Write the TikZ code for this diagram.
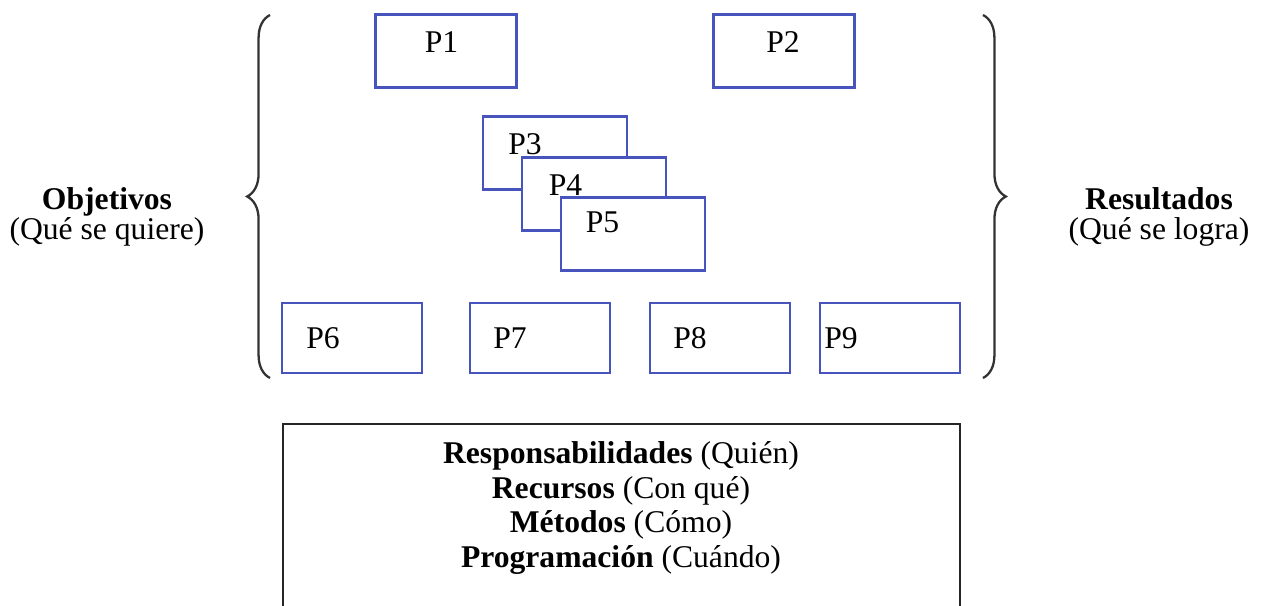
\documentclass[tikz,border=0pt]{standalone}
\usepackage{fontspec}
\setmainfont{Liberation Serif}
\usepackage{xcolor}
\usepackage{tikz}
\usetikzlibrary{positioning, decorations.pathreplacing}
\definecolor{boxblue}{RGB}{72,84,190}

\begin{document}
\begin{tikzpicture}[
        x=0.02cm, y=-0.02cm,
        font=\fontsize{18}{20}\selectfont,
        pbox/.style={rectangle, draw=boxblue, line width=1.4pt, fill=white, minimum width=2.82cm, minimum height=1.46cm, inner sep=0pt},
        sbox/.style={pbox, minimum width=2.88cm},
        rbox/.style={pbox, minimum width=2.8cm, minimum height=1.4cm},
        side/.style={align=center, font=\fontsize{18}{17}\selectfont},
        curly/.style={decorate, decoration={brace, amplitude=13pt}, line width=1.3pt, draw=black!80},
        panel/.style={rectangle, draw=black!85, line width=1.3pt, minimum width=13.54cm, minimum height=3.94cm, anchor=north}
    ]
        \useasboundingbox (0,0) rectangle (1263,605);

        % top pair
        \node[pbox, label={[xshift=-0.09cm, yshift=0.17cm]center:P1}] (P1) at (446,51) {};
        \node[pbox, label={[xshift=-0.02cm, yshift=0.17cm]center:P2}] (P2) at (784,51) {};

        % stacked boxes
        \node[sbox, label={[xshift=-0.6cm, yshift=0.17cm]center:P3}] (P3) at (555,153) {};
        \node[sbox, label={[xshift=-0.57cm, yshift=0.18cm]center:P4}] (P4) at (594,194) {};
        \node[sbox, label={[xshift=-0.61cm, yshift=0.23cm]center:P5}] (P5) at (633,234) {};

        % bottom row
        \node[rbox, label={[xshift=-0.58cm]center:P6}] (P6) at (352,338) {};
        \node[rbox, label={[xshift=-0.6cm]center:P7}] (P7) at (540,338) {};
        \node[rbox, label={[xshift=-0.6cm]center:P8}] (P8) at (720,338) {};
        \node[rbox, label={[xshift=-0.98cm]center:P9}] (P9) at (890,338) {};

        % braces
        \draw[curly] (270,378) -- (270,15);
        \draw[curly] (983,15) -- (983,378);

        \node[side] (obj) at (107,217) {\textbf{Objetivos}\\(Qué se quiere)};
        \node[side] (res) at (1159,217) {\textbf{Resultados}\\(Qué se logra)};

        % lower panel
        \node[panel] (marco) at (621.5,423) {};
        \node[align=center, font=\fontsize{18}{19.8}\selectfont] (tareas) at (621,508) {\textbf{Responsabilidades} (Quién)\\
            \textbf{Recursos} (Con qué)\\
            \textbf{Métodos} (Cómo)\\
            \textbf{Programación} (Cuándo)};
    \end{tikzpicture}
\end{document}
